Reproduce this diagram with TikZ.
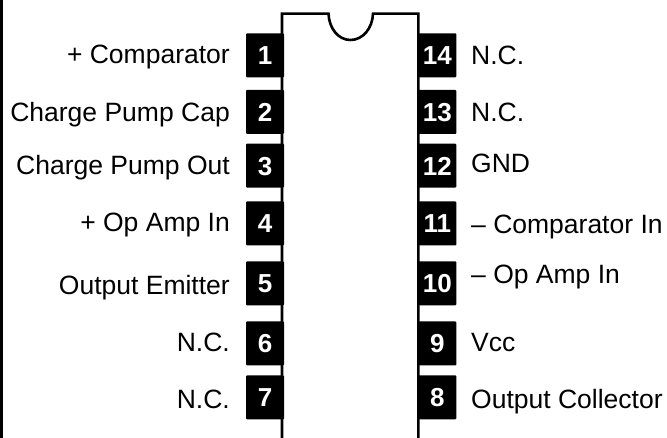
\documentclass[tikz,border=0pt]{standalone}
\usepackage{fontspec}
\setmainfont{Liberation Sans}
\tikzset{
  x=1pt,y=1pt,
  pinbox/.style={fill=black,text=white,draw=none,rounded corners=1pt,inner sep=0pt,
    minimum width=38pt,minimum height=44pt,text height=19pt,text depth=0pt,
    font=\fontsize{26}{30}\selectfont\bfseries},
  leftlabel/.style={anchor=base east,inner sep=0pt,font=\fontsize{26.5}{30}\selectfont},
  rightlabel/.style={anchor=base west,inner sep=0pt,font=\fontsize{26.5}{30}\selectfont},
  body/.style={draw=black,line width=2.6pt,line join=miter},
  edgebar/.style={fill=black,draw=none}
}
\begin{document}
\begin{tikzpicture}
\useasboundingbox (0,0) rectangle (667,438);
\fill[white] (0,0) rectangle (667,438);
\path[edgebar] (0,0) rectangle (3.2,438);
% package outline with notch
\draw[body] (282,-2) -- (282,424.3) -- (328.5,424.3)
  .. controls (329,410) and (338,398) .. (350.5,398) .. controls (363,398) and (372.5,410) .. (373,424.3)
  -- (418.3,424.3) -- (418.3,-2);
% left pins
\node[pinbox] (p1) at (265,382.7) {1};
\node[pinbox] (p2) at (265,326) {2};
\node[pinbox] (p3) at (265,272.3) {3};
\node[pinbox] (p4) at (265,214.5) {4};
\node[pinbox] (p5) at (265,154.7) {5};
\node[pinbox] (p6) at (265,94.5) {6};
\node[pinbox] (p7) at (265,40.7) {7};
% right pins
\node[pinbox] (p14) at (437.3,382.7) {14};
\node[pinbox] (p13) at (437.3,326) {13};
\node[pinbox] (p12) at (437.3,272.3) {12};
\node[pinbox] (p11) at (437.3,214.5) {11};
\node[pinbox] (p10) at (437.3,154.7) {10};
\node[pinbox] (p9) at (437.3,94.5) {9};
\node[pinbox] (p8) at (437.3,40.7) {8};
% left labels
\node[leftlabel] (l1) at (230,374) {+ Comparator};
\node[leftlabel] (l2) at (230,316) {Charge Pump Cap};
\node[leftlabel] (l3) at (230,263) {Charge Pump Out};
\node[leftlabel] (l4) at (230,206) {+ Op Amp In};
\node[leftlabel] (l5) at (230,143) {Output Emitter};
\node[leftlabel] (l6) at (230,86) {N.C.};
\node[leftlabel] (l7) at (230,29) {N.C.};
% right labels
\node[rightlabel] (r14) at (471,373) {N.C.};
\node[rightlabel] (r13) at (471,316) {N.C.};
\node[rightlabel] (r12) at (471,265) {GND};
\node[rightlabel] (r11) at (471,204) {– Comparator In};
\node[rightlabel] (r10) at (471,154) {– Op Amp In};
\node[rightlabel] (r9) at (471,86) {Vcc};
\node[rightlabel] (r8) at (471,29) {Output Collector};
\end{tikzpicture}
\end{document}
